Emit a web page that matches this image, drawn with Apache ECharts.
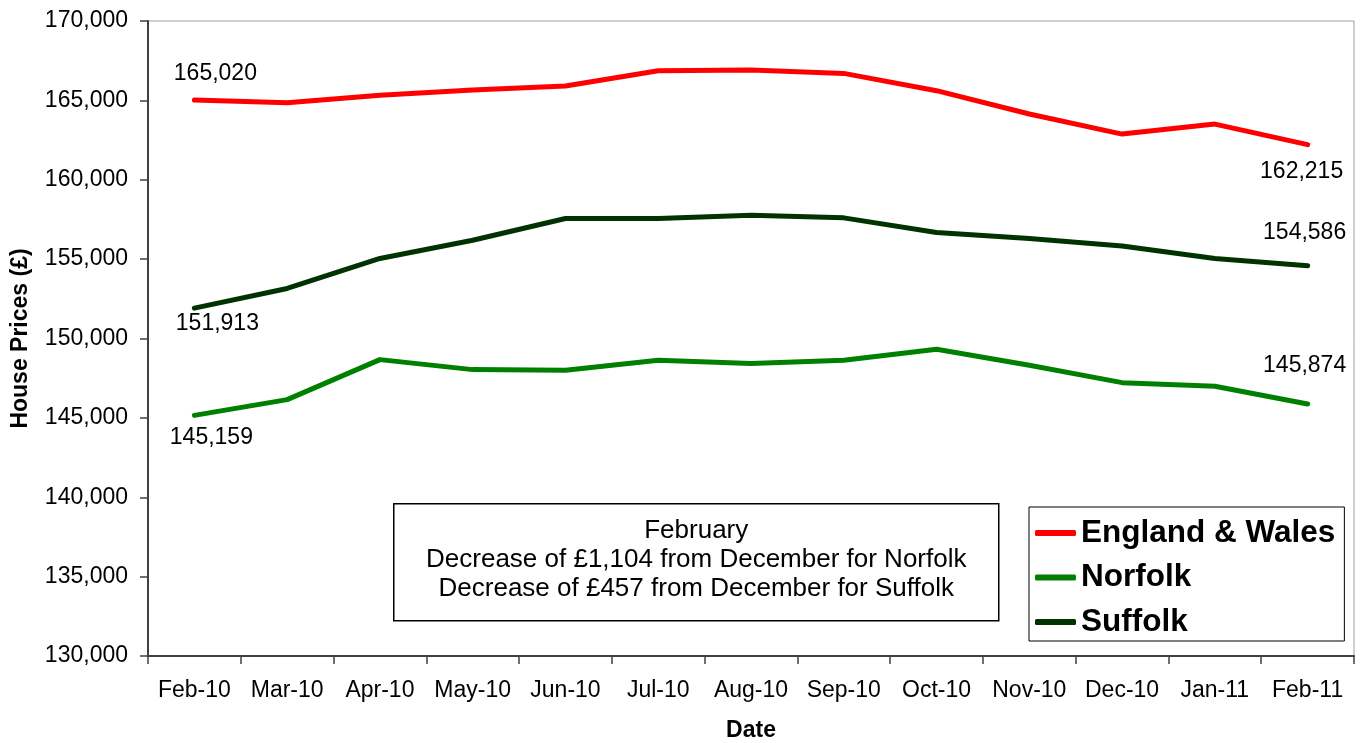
<!DOCTYPE html>
<html>
<head>
<meta charset="utf-8">
<script src="https://cdn.jsdelivr.net/npm/echarts@6/dist/echarts.min.js"></script>
<style>
html,body{margin:0;padding:0;background:#fff;}
#chart{width:1364px;height:743px;}
</style>
</head>
<body>
<div id="chart"></div>
<script>
// ---- data ----
const categories = ['Feb-10','Mar-10','Apr-10','May-10','Jun-10','Jul-10','Aug-10','Sep-10','Oct-10','Nov-10','Dec-10','Jan-11','Feb-11'];
const englandWales = [165020,164850,165330,165650,165900,166870,166910,166700,165610,164140,162875,163505,162215];
const norfolk      = [145159,146150,148670,148040,148000,148625,148420,148625,149320,148310,147220,146990,145874];
const suffolk      = [151913,153150,155040,156190,157560,157560,157760,157600,156680,156300,155830,155040,154586];
const seriesNames = ['England & Wales','Norfolk','Suffolk'];
const yTicks = {min:130000, max:170000, interval:5000};
const noteLines = ['February','Decrease of £1,104 from December for Norfolk','Decrease of £457 from December for Suffolk'];
const axisTitles = {x:'Date', y:'House Prices (£)'};

const FONT = 'Liberation Sans, Arial, Helvetica, sans-serif';
const fmt = v => v.toLocaleString('en-GB');

// label placements for first / last points (style only)
function withLabels(values, first, last){
  return values.map((v,i)=>{
    let cfg = null;
    if(i===0) cfg = first;
    if(i===values.length-1) cfg = last;
    if(!cfg) return v;
    return {value:v, label:{show:true, position:cfg.pos, distance:0, offset:cfg.off,
      formatter: p => fmt(p.value), color:'#000', fontSize:23, fontFamily:FONT}};
  });
}

function lineSeries(name, color, data){
  return {
    name, type:'line', data,
    symbol:'circle', symbolSize:2, showSymbol:true,
    itemStyle:{color},
    lineStyle:{color, width:5, cap:'round', join:'round'},
    label:{show:false},
    emphasis:{disabled:true},
    z:3
  };
}

const chart = echarts.init(document.getElementById('chart'), null, {renderer:'canvas'});
chart.setOption({
  animation:false,
  backgroundColor:'#ffffff',
  grid:{left:148, right:10, top:21, bottom:87, outerBoundsMode:'none', containLabel:false,
        show:true, borderColor:'#a0a0a0', borderWidth:1, backgroundColor:'transparent'},
  xAxis:{
    type:'category', data:categories, boundaryGap:true,
    name:axisTitles.x, nameLocation:'middle', nameGap:63,
    nameTextStyle:{fontSize:23, fontWeight:'bold', color:'#000', fontFamily:FONT},
    axisLine:{show:true, lineStyle:{color:'#404040', width:2}},
    axisTick:{show:true, length:8, lineStyle:{color:'#404040', width:1.5}, alignWithLabel:false},
    axisLabel:{fontSize:23, color:'#000', margin:23, fontFamily:FONT, interval:0},
    splitLine:{show:false}
  },
  yAxis:{
    type:'value', min:yTicks.min, max:yTicks.max, interval:yTicks.interval,
    name:axisTitles.y, nameLocation:'middle', nameGap:116, nameRotate:90,
    nameTextStyle:{fontSize:23, fontWeight:'bold', color:'#000', fontFamily:FONT},
    axisLine:{show:true, lineStyle:{color:'#404040', width:2}},
    axisTick:{show:true, length:8, lineStyle:{color:'#404040', width:1.5}},
    axisLabel:{fontSize:23, color:'#000', margin:20, fontFamily:FONT, formatter: v => fmt(v)},
    splitLine:{show:false}
  },
  legend:{
    show:true, orient:'vertical', left:1029, top:507,
    data:seriesNames,
    icon:'roundRect', itemWidth:41, itemHeight:6, itemGap:10.5,
    padding:[9,9,2,6],
    borderColor:'#000', borderWidth:1, backgroundColor:'#fff',
    textStyle:{fontSize:31.5, fontWeight:'bold', color:'#000', fontFamily:FONT, lineHeight:34},
    selectedMode:false
  },
  graphic:[{
    type:'group', left:393, top:503, z:10,
    children:[
      {type:'rect', shape:{x:0,y:0,width:605,height:117}, style:{fill:'#fff', stroke:'#000', lineWidth:1.5}},
      {type:'text', x:302.5, y:56.5, style:{text:noteLines.join('\n'), fill:'#000', font:'26px '+FONT, lineHeight:29, align:'center', verticalAlign:'middle'}}
    ]
  }],
  series:[
    lineSeries(seriesNames[0], '#ff0000', withLabels(englandWales, {pos:'top', off:[21,-14]}, {pos:'bottom', off:[-6,15]})),
    lineSeries(seriesNames[1], '#008000', withLabels(norfolk, {pos:'bottom', off:[17,10]}, {pos:'top', off:[-3,-26]})),
    lineSeries(seriesNames[2], '#003300', withLabels(suffolk, {pos:'bottom', off:[23,3]}, {pos:'top', off:[-3,-21]}))
  ]
});
</script>
</body>
</html>
